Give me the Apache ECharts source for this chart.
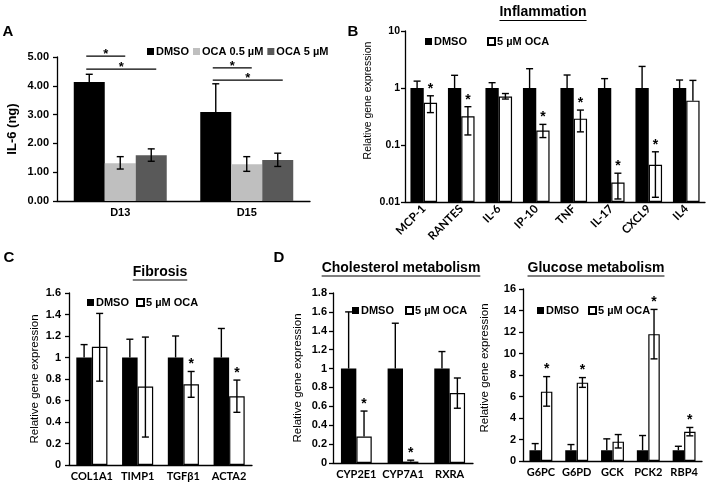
<!DOCTYPE html>
<html><head><meta charset="utf-8">
<script src="https://cdn.jsdelivr.net/npm/echarts@6/dist/echarts.min.js"></script>
<style>html,body{margin:0;padding:0;background:#fff}#c{width:709px;height:488px}</style>
</head><body><div id="c"></div>
<script>
// ---------- Panel A : IL-6 (ng) ----------
const catA = ['D13', 'D15'];
const aDMSO = [4.13, 3.09];
const aDMSOHi = [4.40, 4.07];
const aLow = [1.31, 1.28];
const aLowLo = [1.11, 1.03];
const aLowHi = [1.54, 1.54];
const aHigh = [1.59, 1.42];
const aHighLo = [1.38, 1.20];
const aHighHi = [1.81, 1.66];
// significance brackets: [category, fromSeries, toSeries, level]
const aSig = [[0, 0, 1, 5.03], [0, 0, 2, 4.58], [1, 0, 1, 4.62], [1, 0, 2, 4.20]];

// ---------- Panel B : Inflammation (log) ----------
const catB = ['MCP-1', 'RANTES', 'IL-6', 'IP-10', 'TNF', 'IL-17', 'CXCL9', 'IL4'];
const bDMSO = [1, 1, 1, 1, 1, 1, 1, 1];
const bDMSOHi = [1.32, 1.67, 1.24, 2.18, 1.69, 1.46, 2.39, 1.38];
const bOCA = [0.55, 0.32, 0.71, 0.18, 0.29, 0.022, 0.045, 0.60];
const bOCALo = [0.37, 0.15, 0.64, 0.135, 0.17, 0.0113, 0.0121, 0.60];
const bOCAHi = [0.73, 0.47, 0.80, 0.23, 0.41, 0.032, 0.076, 1.36];
const bSig = [1, 1, 0, 1, 1, 1, 1, 0];

// ---------- Panel C : Fibrosis ----------
const catC = ['COL1A1', 'TIMP1', 'TGFβ1', 'ACTA2'];
const cDMSO = [1, 1, 1, 1];
const cDMSOHi = [1.12, 1.17, 1.20, 1.27];
const cOCA = [1.10, 0.73, 0.75, 0.64];
const cOCALo = [0.78, 0.26, 0.63, 0.49];
const cOCAHi = [1.41, 1.19, 0.87, 0.79];
const cSig = [0, 0, 1, 1];

// ---------- Panel D : Cholesterol metabolism ----------
const catD = ['CYP2E1', 'CYP7A1', 'RXRA'];
const dDMSO = [1, 1, 1];
const dDMSOHi = [1.60, 1.48, 1.18];
const dOCA = [0.28, 0.015, 0.74];
const dOCALo = [0.28, 0.015, 0.58];
const dOCAHi = [0.55, 0.03, 0.90];
const dSig = [1, 1, 0];

// ---------- Panel D : Glucose metabolism ----------
const catG = ['G6PC', 'G6PD', 'GCK', 'PCK2', 'RBP4'];
const gDMSO = [1, 1, 1, 1, 1];
const gDMSOHi = [1.62, 1.53, 2.06, 2.37, 1.37];
const gOCA = [6.45, 7.29, 1.80, 11.8, 2.71];
const gOCALo = [5.10, 6.85, 1.21, 9.50, 2.34];
const gOCAHi = [7.85, 7.76, 2.46, 14.1, 3.12];
const gSig = [1, 1, 0, 1, 1];

// ---------- styling ----------
const FONT = '"Liberation Sans", Arial, sans-serif';
const NFONT = 'Lato, "Liberation Sans", sans-serif';
const INK = '#000';
const fracA = 0.245, fracB = 0.355, fracC = 0.34, fracD = 0.33, fracG = 0.32;

function catAxis(gi, data, extra) {
  return Object.assign({
    type: 'category', gridIndex: gi, data: data,
    axisLine: {lineStyle: {color: INK, width: 1.3}},
    axisTick: {length: 4, interval: 0, lineStyle: {color: INK, width: 1.3}},
    axisLabel: {interval: 0, color: INK, fontWeight: 'bold', fontFamily: NFONT, fontSize: 11, margin: 6}
  }, extra || {});
}
function valAxis(gi, extra, label) {
  return Object.assign({
    type: 'value', gridIndex: gi,
    splitLine: {show: false},
    axisLine: {show: true, lineStyle: {color: INK, width: 1.3}},
    axisTick: {show: true, length: 4, lineStyle: {color: INK, width: 1.3}},
    axisLabel: Object.assign({color: INK, fontWeight: 'bold', fontFamily: FONT, fontSize: 11, margin: 8}, label || {}),
    nameLocation: 'middle', nameRotate: 90,
    nameTextStyle: {color: INK, fontFamily: FONT, fontSize: 11.5}
  }, extra || {});
}
function bar(name, gi, data, frac, style) {
  return {type: 'bar', name: name, xAxisIndex: gi, yAxisIndex: gi, data: data,
    barWidth: (frac * 100) + '%', barGap: '0%', itemStyle: style, z: 2, animation: false};
}
function errRender(nSer, sIdx, frac, upOnly) {
  return function (params, api) {
    const i = api.value(0), v = api.value(1), lo = api.value(2), hi = api.value(3), sg = api.value(4);
    const band = api.size([1, 1])[0];
    const base = api.coord([i, v]);
    const x = base[0] + (sIdx - (nSer - 1) / 2) * frac * band;
    const yv = base[1], yh = api.coord([i, hi])[1], yl = api.coord([i, lo])[1];
    const one = upOnly || lo >= v;
    const cw = 3.5, st = {stroke: INK, lineWidth: 1.4};
    const ch = [
      {type: 'line', shape: {x1: x, y1: one ? yv : yl, x2: x, y2: yh}, style: st},
      {type: 'line', shape: {x1: x - cw, y1: yh, x2: x + cw, y2: yh}, style: st}
    ];
    if (!one) ch.push({type: 'line', shape: {x1: x - cw, y1: yl, x2: x + cw, y2: yl}, style: st});
    if (sg) ch.push({type: 'text', x: x, y: yh - 7,
      style: {text: '*', fill: INK, font: 'bold 14px ' + FONT, align: 'center', verticalAlign: 'middle'}});
    return {type: 'group', children: ch};
  };
}
function err(name, gi, nSer, sIdx, frac, vals, lo, hi, sig, upOnly) {
  return {type: 'custom', name: name, xAxisIndex: gi, yAxisIndex: gi, z: 5, clip: false,
    data: vals.map((v, i) => [i, v, lo[i], hi[i], sig ? sig[i] : 0]),
    encode: {x: 0, y: 1}, renderItem: errRender(nSer, sIdx, frac, upOnly), animation: false, silent: true};
}
const black = {color: '#000'};
const white = {color: '#fff', borderColor: '#000', borderWidth: 1.2};

// title underline widths
const mctx = document.createElement('canvas').getContext('2d');
mctx.font = 'bold 14px ' + FONT;
function titleEls(text, cx, cy, uy) {
  const w = mctx.measureText(text).width;
  return [
    {type: 'text', x: cx, y: cy, style: {text: text, fill: INK, font: 'bold 14px ' + FONT, align: 'center', verticalAlign: 'middle'}},
    {type: 'line', shape: {x1: cx - w / 2, y1: uy, x2: cx + w / 2, y2: uy}, style: {stroke: INK, lineWidth: 1.2}}
  ];
}
function letter(t, x, y) {
  return {type: 'text', x: x, y: y, style: {text: t, fill: INK, font: 'bold 15px ' + FONT, align: 'center', verticalAlign: 'middle'}};
}

const legendText = {color: INK, fontWeight: 'bold', fontSize: 11, fontFamily: FONT, padding: [0, 0, 0, -3]};
function legend(names, left, top, gap) {
  return {data: names, left: left, top: top, itemWidth: 7, itemHeight: 7, itemGap: gap,
    icon: 'rect', textStyle: legendText, selectedMode: false, padding: 0};
}

const option = {
  animation: false,
  backgroundColor: '#fff',
  grid: [
    {left: 57, top: 57, width: 253, height: 144},
    {left: 405, top: 31, width: 300, height: 171},
    {left: 69, top: 293, width: 183, height: 172},
    {left: 333, top: 293, width: 140, height: 170},
    {left: 523, top: 289, width: 179, height: 172}
  ],
  legend: [
    legend(['DMSO', 'OCA 0.5 µM', 'OCA 5 µM'], 147, 46, 4),
    legend(['DMSO', '5 µM OCA'], 425, 36, 20),
    legend(['DMSO', '5 µM OCA'], 87, 297, 7),
    legend(['DMSO', '5 µM OCA'], 352, 305, 11),
    legend(['DMSO', '5 µM OCA'], 537, 305, 9)
  ],
  xAxis: [
    catAxis(0, catA, {axisLabel: {interval: 0, color: INK, fontWeight: 'bold', fontFamily: FONT, fontSize: 11, margin: 6}}),
    catAxis(1, catB, {axisLabel: {interval: 0, color: INK, fontWeight: 'bold', fontFamily: NFONT, fontSize: 11.5, margin: 5, rotate: 45}}),
    catAxis(2, catC),
    catAxis(3, catD),
    catAxis(4, catG)
  ],
  yAxis: [
    valAxis(0, {min: 0, max: 5, interval: 1, name: 'IL-6 (ng)', nameGap: 38,
      nameTextStyle: {color: INK, fontFamily: FONT, fontSize: 13, fontWeight: 'bold'}},
      {formatter: v => v.toFixed(2)}),
    valAxis(1, {type: 'log', logBase: 10, min: 0.01, max: 10, startValue: 0.01,
      name: 'Relative gene expression', nameGap: 31,
      nameTextStyle: {color: INK, fontFamily: FONT, fontSize: 10.5, padding: [0, 0, 0, 32]}},
      {fontSize: 10.5, margin: 5}),
    valAxis(2, {min: 0, max: 1.6, interval: 0.2, name: 'Relative gene expression', nameGap: 28}),
    valAxis(3, {min: 0, max: 1.8, interval: 0.2, name: 'Relative gene expression', nameGap: 29}, {margin: 6}),
    valAxis(4, {min: 0, max: 16, interval: 2, name: 'Relative gene expression', nameGap: 32,
      nameTextStyle: {color: INK, fontFamily: FONT, fontSize: 11.5, padding: [0, 0, 0, 14]}}, {margin: 7})
  ],
  series: [
    // A
    bar('DMSO', 0, aDMSO, fracA, {color: '#000'}),
    bar('OCA 0.5 µM', 0, aLow, fracA, {color: '#bfbfbf'}),
    bar('OCA 5 µM', 0, aHigh, fracA, {color: '#595959'}),
    err('eA0', 0, 3, 0, fracA, aDMSO, aDMSO, aDMSOHi, null, true),
    err('eA1', 0, 3, 1, fracA, aLow, aLowLo, aLowHi, null, false),
    err('eA2', 0, 3, 2, fracA, aHigh, aHighLo, aHighHi, null, false),
    {type: 'custom', name: 'sigA', xAxisIndex: 0, yAxisIndex: 0, z: 6, clip: false, silent: true,
      data: aSig, encode: {x: 0, y: 3},
      renderItem: function (params, api) {
        const c = api.value(0), f = api.value(1), t = api.value(2), lv = api.value(3);
        const band = api.size([1, 1])[0];
        const p = api.coord([c, lv]);
        const cx = s => p[0] + (s - 1) * fracA * band;
        const x1 = cx(f) - 3, x2 = cx(t) + 5, y = p[1];
        return {type: 'group', children: [
          {type: 'line', shape: {x1: x1, y1: y, x2: x2, y2: y}, style: {stroke: INK, lineWidth: 1.3}},
          {type: 'text', x: (x1 + x2) / 2, y: y - 1.5,
            style: {text: '*', fill: INK, font: 'bold 13px ' + FONT, align: 'center', verticalAlign: 'middle'}}
        ]};
      }},
    // B
    bar('DMSO', 1, bDMSO, fracB, black),
    bar('5 µM OCA', 1, bOCA, fracB, white),
    err('eB0', 1, 2, 0, fracB, bDMSO, bDMSO, bDMSOHi, null, true),
    err('eB1', 1, 2, 1, fracB, bOCA, bOCALo, bOCAHi, bSig, false),
    // C
    bar('DMSO', 2, cDMSO, fracC, black),
    bar('5 µM OCA', 2, cOCA, fracC, white),
    err('eC0', 2, 2, 0, fracC, cDMSO, cDMSO, cDMSOHi, null, true),
    err('eC1', 2, 2, 1, fracC, cOCA, cOCALo, cOCAHi, cSig, false),
    // D cholesterol
    bar('DMSO', 3, dDMSO, fracD, black),
    bar('5 µM OCA', 3, dOCA, fracD, white),
    err('eD0', 3, 2, 0, fracD, dDMSO, dDMSO, dDMSOHi, null, true),
    err('eD1', 3, 2, 1, fracD, dOCA, dOCALo, dOCAHi, dSig, false),
    // D glucose
    bar('DMSO', 4, gDMSO, fracG, black),
    bar('5 µM OCA', 4, gOCA, fracG, white),
    err('eG0', 4, 2, 0, fracG, gDMSO, gDMSO, gDMSOHi, null, true),
    err('eG1', 4, 2, 1, fracG, gOCA, gOCALo, gOCAHi, gSig, false)
  ],
  graphic: {elements: [
    letter('A', 8, 32), letter('B', 353, 32), letter('C', 9, 258), letter('D', 279, 258),
    ...titleEls('Inflammation', 543, 12, 20.5),
    ...titleEls('Fibrosis', 160, 272, 280),
    ...titleEls('Cholesterol metabolism', 401, 268, 276),
    ...titleEls('Glucose metabolism', 596, 268, 276)
  ]}
};
const chart = echarts.init(document.getElementById('c'), null, {renderer: 'canvas'});
chart.setOption(option);
</script></body></html>
